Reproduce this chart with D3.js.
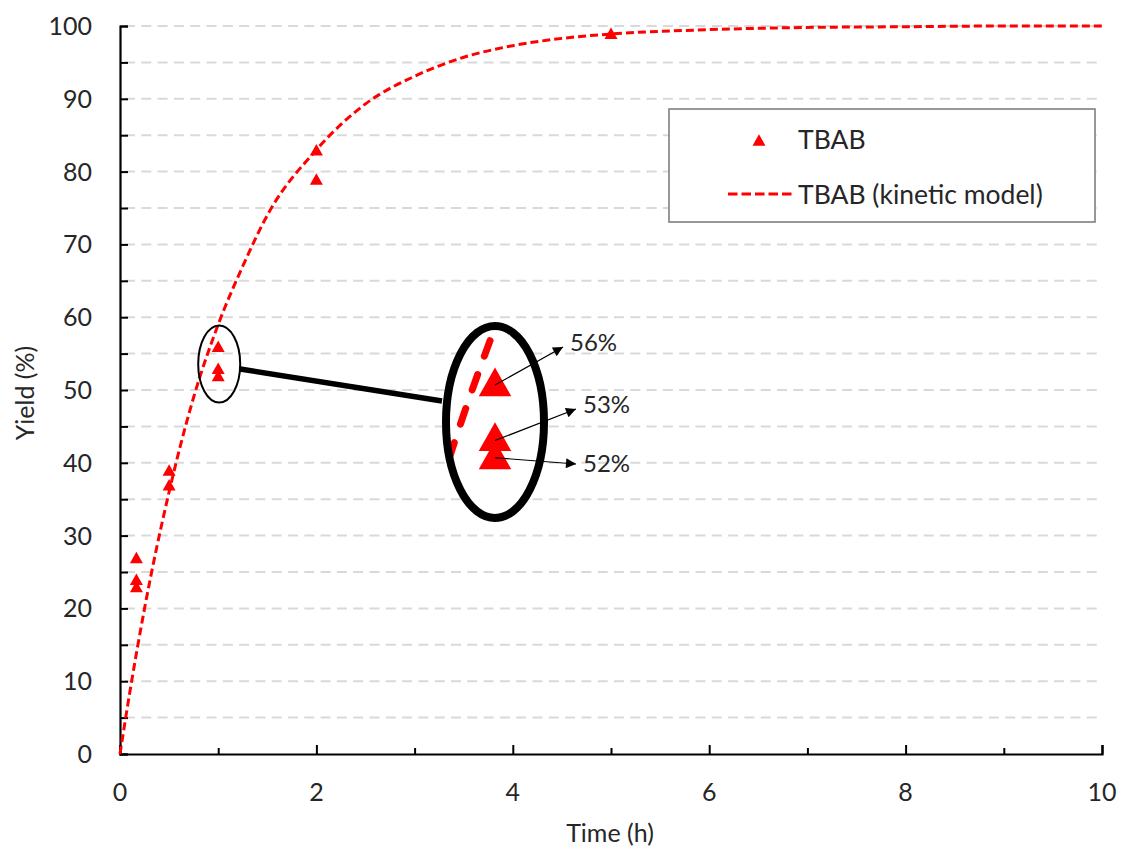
<!DOCTYPE html>
<html>
<head>
<meta charset="utf-8">
<script src="https://cdn.jsdelivr.net/npm/d3@7"></script>
<style>
  html, body { margin: 0; padding: 0; background: #fff; }
  svg { display: block; font-family: Lato, "Open Sans", sans-serif; }
</style>
</head>
<body>
<svg id="chart" width="1123" height="850"></svg>
<script>
// Measured yields (TBAB)
const timeH = [0.167, 0.167, 0.167, 0.5, 0.5, 1, 1, 1, 2, 2, 5];
const yieldPct = [27, 24, 23, 39, 37, 56, 53, 52, 83, 79, 99];

// Kinetic model curve
const modelTime = [0, 0.1, 0.25, 0.5, 0.75, 1, 1.25, 1.5, 2, 2.5, 3, 3.5, 4, 4.5, 5, 6, 7, 8, 9, 10];
const modelYield = [0, 8.5, 20, 36, 49, 59, 67, 74, 83, 89.3, 93.1, 95.7, 97.3, 98.3, 98.9, 99.5, 99.8, 99.9, 100, 100];

// Axis ticks
const xTicks = [0, 2, 4, 6, 8, 10];
const xMinorTicks = [1, 3, 5, 7, 9];
const yTicks = [0, 10, 20, 30, 40, 50, 60, 70, 80, 90, 100];
const yGrid = [5, 10, 15, 20, 25, 30, 35, 40, 45, 50, 55, 60, 65, 70, 75, 80, 85, 90, 95, 100];

// Points called out in the magnified view (indices into the measured data)
const calloutIdx = [5, 6, 7];
const zoomCenter = [1, 53.8];

const seriesName = "TBAB";
const modelName = "TBAB (kinetic model)";
const xTitle = "Time (h)";
const yTitle = "Yield (%)";

const RED = "#ff0000";
const TXT = "#262626";
const svg = d3.select("#chart");

const x = d3.scaleLinear().domain([0, 10]).range([120, 1102]);
const y = d3.scaleLinear().domain([0, 100]).range([754, 26]);

// Gridlines
svg.append("g").selectAll("line").data(yGrid).join("line")
  .attr("x1", x(0) + 5).attr("x2", x(10))
  .attr("y1", d => y(d)).attr("y2", d => y(d))
  .attr("stroke", "#d9d9d9").attr("stroke-width", 2)
  .attr("stroke-dasharray", "10,6.3");

// Axes
svg.append("g").attr("transform", `translate(${x(0)},0)`)
  .call(d3.axisRight(y).tickValues(d3.range(0, 101, 5)).tickSize(8).tickFormat(""));
svg.append("g").attr("transform", `translate(0,${y(0)})`)
  .call(d3.axisTop(x).tickValues(xTicks).tickSize(9).tickFormat(""));
svg.append("g").attr("transform", `translate(0,${y(0)})`)
  .call(d3.axisTop(x).tickValues(xMinorTicks).tickSize(6).tickFormat(""))
  .select(".domain").remove();
svg.selectAll(".domain, .tick line").attr("stroke", "#000").attr("stroke-width", 2);
svg.selectAll(".domain").attr("stroke-width", 2.2);

// Tick labels
svg.append("g").selectAll("text").data(yTicks).join("text")
  .attr("x", 92).attr("y", d => y(d) + 9)
  .attr("text-anchor", "end").attr("font-size", 25).attr("fill", TXT)
  .text(d => d);
svg.append("g").selectAll("text").data(xTicks).join("text")
  .attr("x", d => x(d)).attr("y", 801)
  .attr("text-anchor", "middle").attr("font-size", 25).attr("fill", TXT)
  .text(d => d);

// Axis titles
svg.append("text").attr("x", x(5) - 1).attr("y", 842)
  .attr("text-anchor", "middle").attr("font-size", 25).attr("fill", TXT).text(xTitle);
svg.append("text").attr("transform", `translate(34,${y(50) + 3}) rotate(-90)`)
  .attr("text-anchor", "middle").attr("font-size", 25).attr("fill", TXT).text(yTitle);

const modelPts = modelTime.map((t, i) => [t, modelYield[i]]);
const dataPts = timeH.map((t, i) => [t, yieldPct[i]]);
const line = d3.line().x(d => x(d[0])).y(d => y(d[1])).curve(d3.curveMonotoneX);

// Triangle marker path centred on its bounding box
function tri(w, h) {
  return `M0,${-h / 2}L${w / 2},${h / 2}L${-w / 2},${h / 2}Z`;
}

function drawSeries(g, dash, width, cap, offset) {
  g.append("path").datum(modelPts).attr("d", line)
    .attr("fill", "none").attr("stroke", RED).attr("stroke-width", width)
    .attr("stroke-dasharray", dash).attr("stroke-dashoffset", offset)
    .attr("stroke-linecap", cap);
  g.append("g").selectAll("path").data(dataPts).join("path")
    .attr("d", tri(13, 11.5))
    .attr("transform", d => `translate(${x(d[0])},${y(d[1])})`)
    .attr("fill", RED);
}

// Main plot
drawSeries(svg.append("g"), "8,4", 3, "butt", 0);

// Legend
const lg = svg.append("g");
lg.append("rect").attr("x", 669).attr("y", 109).attr("width", 426).attr("height", 113)
  .attr("fill", "#fff").attr("stroke", "#7f7f7f").attr("stroke-width", 1.6);
lg.append("path").attr("d", tri(13, 11.5)).attr("transform", "translate(759,140)").attr("fill", RED);
lg.append("text").attr("x", 798).attr("y", 149).attr("font-size", 26.5).attr("fill", TXT).text(seriesName);
lg.append("line").attr("x1", 728).attr("x2", 793).attr("y1", 194).attr("y2", 194)
  .attr("stroke", RED).attr("stroke-width", 3).attr("stroke-dasharray", "9.5,4");
lg.append("text").attr("x", 798).attr("y", 204).attr("font-size", 26.5).attr("fill", TXT).text(modelName);

// Magnified view of the 1 h replicates
const cx0 = x(zoomCenter[0]), cy0 = y(zoomCenter[1]);
const bigC = [495, 422], bigR = [49, 96], mag = 2.5;

svg.append("ellipse").attr("cx", cx0 + 1).attr("cy", 364).attr("rx", 21).attr("ry", 38.5)
  .attr("fill", "none").attr("stroke", "#000").attr("stroke-width", 2);
svg.append("line").attr("x1", cx0 + 22).attr("y1", 369).attr("x2", bigC[0] - 53).attr("y2", 401)
  .attr("stroke", "#000").attr("stroke-width", 5.5);

const defs = svg.append("defs");
defs.append("clipPath").attr("id", "lens")
  .append("ellipse").attr("cx", bigC[0]).attr("cy", bigC[1]).attr("rx", bigR[0]).attr("ry", bigR[1]);

const lens = svg.append("g").attr("clip-path", "url(#lens)");
lens.append("ellipse").attr("cx", bigC[0]).attr("cy", bigC[1]).attr("rx", bigR[0]).attr("ry", bigR[1]).attr("fill", "#fff");
const inner = lens.append("g")
  .attr("transform", `translate(${bigC[0]},${bigC[1]}) scale(${mag}) translate(${-cx0},${-cy0})`);
drawSeries(inner, "6.6,7.8", 2.8, "round", 3);

svg.append("ellipse").attr("cx", bigC[0]).attr("cy", bigC[1]).attr("rx", bigR[0]).attr("ry", bigR[1])
  .attr("fill", "none").attr("stroke", "#000").attr("stroke-width", 8);

// Callout arrows and value labels
defs.append("marker").attr("id", "arrow").attr("viewBox", "0 0 10 10")
  .attr("refX", 10).attr("refY", 5).attr("markerWidth", 13).attr("markerHeight", 10)
  .attr("markerUnits", "userSpaceOnUse").attr("orient", "auto")
  .append("path").attr("d", "M0,0L10,5L0,10Z").attr("fill", "#000");

const toLens = p => [bigC[0] + (x(p[0]) - cx0) * mag, bigC[1] + (y(p[1]) - cy0) * mag];
const calloutEnds = [[563, 347], [576, 409], [576, 464]];
const calloutStartDy = [3, 4, 3];
const labelDy = [4, 4, 8];
calloutIdx.forEach((idx, i) => {
  const s = toLens(dataPts[idx]);
  const e = calloutEnds[i];
  svg.append("line").attr("x1", s[0]).attr("y1", s[1] + calloutStartDy[i])
    .attr("x2", e[0]).attr("y2", e[1])
    .attr("stroke", "#000").attr("stroke-width", 1.2).attr("marker-end", "url(#arrow)");
  svg.append("text").attr("x", e[0] + 7).attr("y", e[1] + labelDy[i])
    .attr("font-size", 24).attr("fill", TXT).text(yieldPct[idx] + "%");
});
</script>
</body>
</html>
